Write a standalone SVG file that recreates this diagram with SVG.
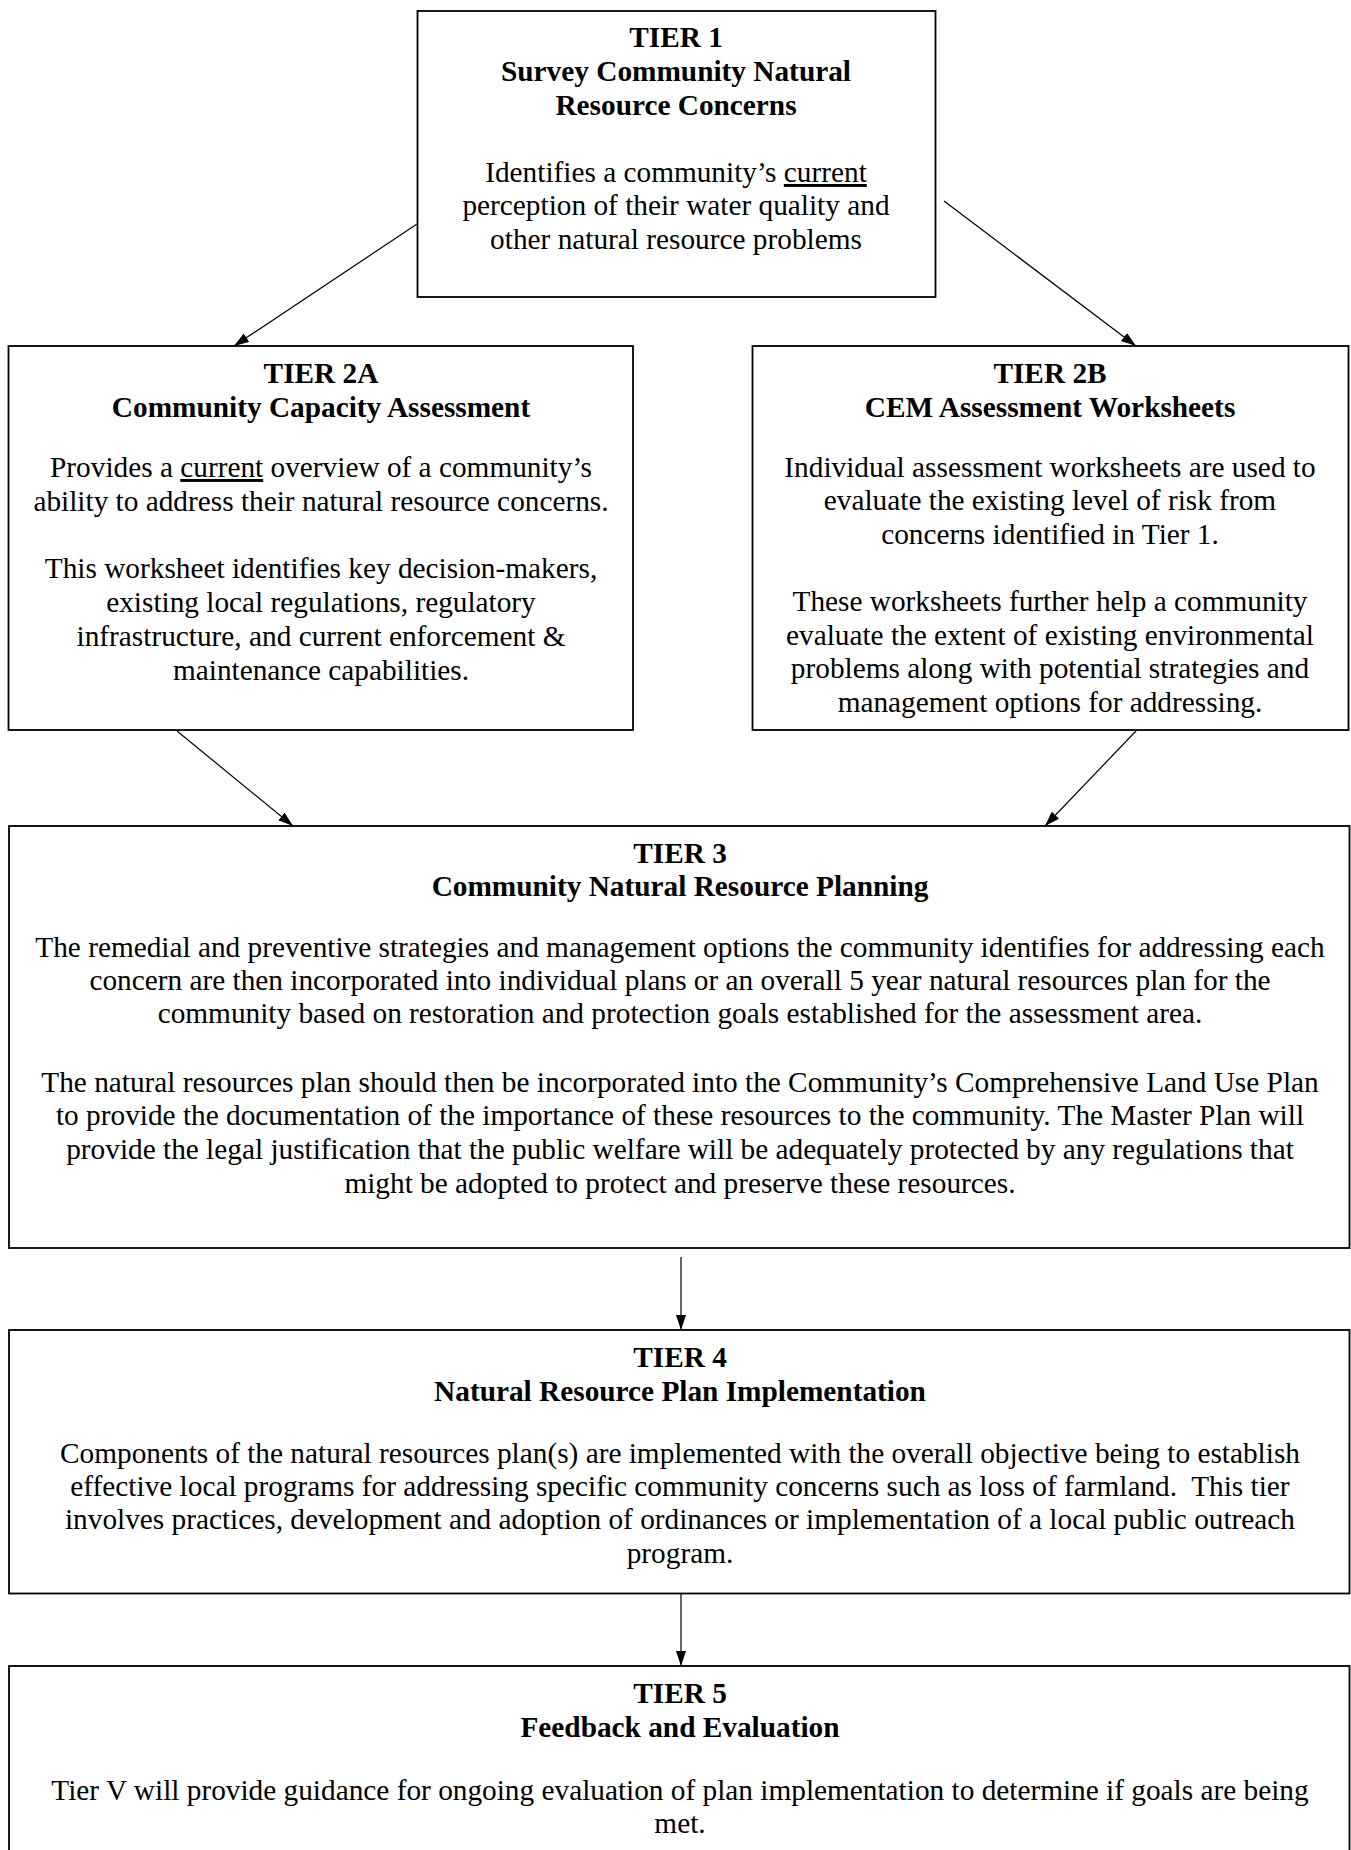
<svg xmlns="http://www.w3.org/2000/svg" width="1351" height="1850" viewBox="0 0 1351 1850">
<style>
.box{fill:#fff;stroke:#000;stroke-width:1.8}
.t{font-family:"Liberation Serif","Times New Roman",serif;font-size:29.3px;fill:#000;text-anchor:middle}
.b{font-weight:bold}
.c{stroke:#000;stroke-width:1.2;fill:none;marker-end:url(#ah)}
</style>
<defs>
<marker id="ah" markerUnits="userSpaceOnUse" markerWidth="16" markerHeight="12" refX="15" refY="5" orient="auto">
<path d="M0,0 L15,5 L0,10 z" fill="#000"/>
</marker>
</defs>
<rect width="1351" height="1850" fill="#fff"/>
<g id="connectors">
<line class="c" x1="417" y1="224" x2="234" y2="346"/>
<line class="c" x1="944" y1="201" x2="1136" y2="346"/>
<line class="c" x1="177" y1="731" x2="293" y2="826"/>
<line class="c" x1="1136" y1="731" x2="1045" y2="826"/>
<line class="c" x1="681" y1="1257" x2="681" y2="1330"/>
<line class="c" x1="681" y1="1594" x2="681" y2="1666"/>
</g>
<g id="tier1">
<rect class="box" x="417.5" y="11" width="518" height="286"/>
<text class="t b" x="676" y="47">TIER 1</text>
<text class="t b" x="676" y="81">Survey Community Natural</text>
<text class="t b" x="676" y="115">Resource Concerns</text>
<text class="t" x="676" y="182">Identifies a community’s <tspan text-decoration="underline">current</tspan></text>
<text class="t" x="676" y="215">perception of their water quality and</text>
<text class="t" x="676" y="249">other natural resource problems</text>
</g>
<g id="tier2a">
<rect class="box" x="8.5" y="346" width="624.5" height="384"/>
<text class="t b" x="321" y="383">TIER 2A</text>
<text class="t b" x="321" y="417">Community Capacity Assessment</text>
<text class="t" x="321" y="477">Provides a <tspan text-decoration="underline">current</tspan> overview of a community’s</text>
<text class="t" x="321" y="511">ability to address their natural resource concerns.</text>
<text class="t" x="321" y="578">This worksheet identifies key decision-makers,</text>
<text class="t" x="321" y="612">existing local regulations, regulatory</text>
<text class="t" x="321" y="646">infrastructure, and current enforcement &amp;</text>
<text class="t" x="321" y="680">maintenance capabilities.</text>
</g>
<g id="tier2b">
<rect class="box" x="752.5" y="346" width="596" height="384"/>
<text class="t b" x="1050" y="383">TIER 2B</text>
<text class="t b" x="1050" y="417">CEM Assessment Worksheets</text>
<text class="t" x="1050" y="477">Individual assessment worksheets are used to</text>
<text class="t" x="1050" y="510">evaluate the existing level of risk from</text>
<text class="t" x="1050" y="544">concerns identified in Tier 1.</text>
<text class="t" x="1050" y="611">These worksheets further help a community</text>
<text class="t" x="1050" y="645">evaluate the extent of existing environmental</text>
<text class="t" x="1050" y="678">problems along with potential strategies and</text>
<text class="t" x="1050" y="712">management options for addressing.</text>
</g>
<g id="tier3">
<rect class="box" x="9" y="826" width="1340.5" height="422"/>
<text class="t b" x="680" y="863">TIER 3</text>
<text class="t b" x="680" y="896">Community Natural Resource Planning</text>
<text class="t" x="680" y="957">The remedial and preventive strategies and management options the community identifies for addressing each</text>
<text class="t" x="680" y="990">concern are then incorporated into individual plans or an overall 5 year natural resources plan for the</text>
<text class="t" x="680" y="1023">community based on restoration and protection goals established for the assessment area.</text>
<text class="t" x="680" y="1092">The natural resources plan should then be incorporated into the Community’s Comprehensive Land Use Plan</text>
<text class="t" x="680" y="1125">to provide the documentation of the importance of these resources to the community. The Master Plan will</text>
<text class="t" x="680" y="1159">provide the legal justification that the public welfare will be adequately protected by any regulations that</text>
<text class="t" x="680" y="1193">might be adopted to protect and preserve these resources.</text>
</g>
<g id="tier4">
<rect class="box" x="9" y="1330" width="1340.5" height="263.5"/>
<text class="t b" x="680" y="1367">TIER 4</text>
<text class="t b" x="680" y="1401">Natural Resource Plan Implementation</text>
<text class="t" x="680" y="1463">Components of the natural resources plan(s) are implemented with the overall objective being to establish</text>
<text class="t" x="680" y="1496" xml:space="preserve">effective local programs for addressing specific community concerns such as loss of farmland.  This tier</text>
<text class="t" x="680" y="1529">involves practices, development and adoption of ordinances or implementation of a local public outreach</text>
<text class="t" x="680" y="1563">program.</text>
</g>
<g id="tier5">
<rect class="box" x="9" y="1666" width="1340.5" height="200"/>
<text class="t b" x="680" y="1703">TIER 5</text>
<text class="t b" x="680" y="1737">Feedback and Evaluation</text>
<text class="t" x="680" y="1800">Tier V will provide guidance for ongoing evaluation of plan implementation to determine if goals are being</text>
<text class="t" x="680" y="1833">met.</text>
</g>
</svg>
